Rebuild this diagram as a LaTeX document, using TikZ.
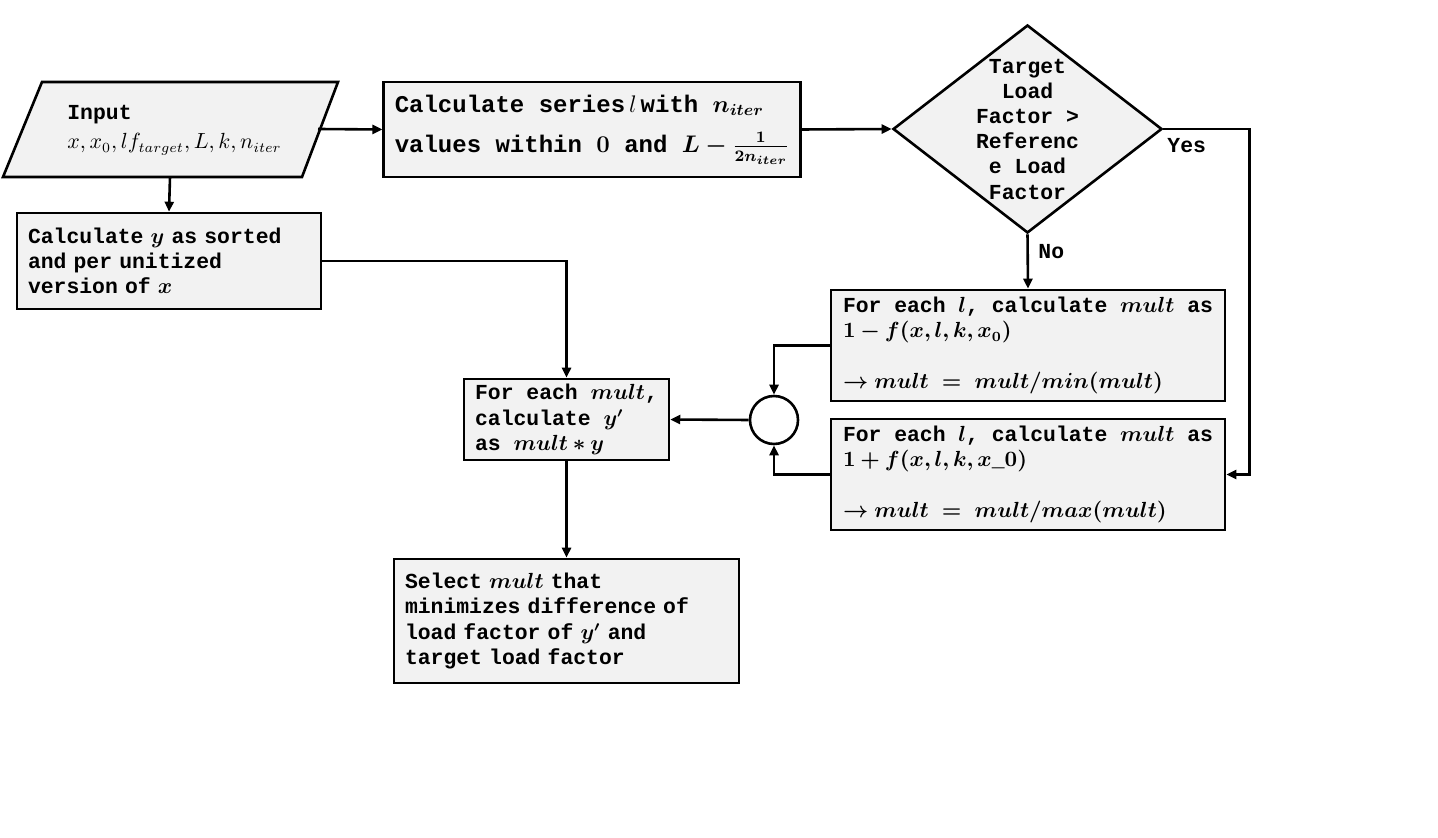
\documentclass[tikz,border=0pt]{standalone}
\usepackage{amsmath,bm}
\usepackage[no-math]{fontspec}
\setmainfont{Liberation Mono}[WordSpace={1,0,0}]
\usetikzlibrary{shapes.geometric,arrows.meta}
\definecolor{boxfill}{HTML}{F2F2F2}
\begin{document}
\begin{tikzpicture}[x=0.5pt,y=-0.5pt,
  txt/.style={font=\bfseries\fontsize{10.7pt}{12.6pt}\selectfont},
  box/.style={txt,draw,line width=1.3pt,fill=boxfill,inner xsep=5.5pt,inner ysep=0pt,align=left},
  conn/.style={line width=1.3pt,-{Triangle[length=5pt,width=4.5pt]}},
  ]
\useasboundingbox (0,0) rectangle (1438,838);
% input parallelogram
\coordinate (p1) at (42,82);
\coordinate (p2) at (338,82);
\coordinate (p3) at (302,177);
\coordinate (p4) at (3,177);
\draw[line width=1.3pt,fill=boxfill] (p1) -- (p2) -- (p3) -- (p4) -- cycle;
\node (intext) [txt,anchor=west,align=left,inner sep=0pt] at (67,130) {Input\\[2pt]$x, x_0, lf_{target}, L, k, n_{iter}$};
\coordinate (inR) at (318,129);
\coordinate (inB) at (170,177);
% boxes
\node (box1) [box,font=\bfseries\fontsize{12pt}{14pt}\selectfont,minimum width=206pt,minimum height=47.5pt] at (592,129.5)
  {Calculate series$\,l\,$with $\bm{n_{iter}}$\\[6pt] values within $\bm{0}$ and $\bm{L-\frac{1}{2n_{iter}}}$};
\node (boxy) [box,text width=141pt,minimum height=48pt] at (169,261)
  {Calculate $\bm{y}$ as sorted\\ and per unitized\\ version of $\bm{x}$};
\node (dia) [diamond,draw,line width=1.3pt,fill=boxfill,minimum width=134.5pt,minimum height=104pt,inner sep=0pt] at (1027.5,129) {};
\node (diatext) [txt,align=center,inner sep=0pt] at (dia.center) {Target\\Load\\Factor >\\Referenc\\e Load\\Factor};
\node (boxmin) [box,inner xsep=6pt,text width=185pt,minimum height=55.5pt] at (1028,345.5)
  {\hbox to \linewidth{For\hfill each\hfill $\bm{l}$,\hfill calculate\hfill $\bm{mult}$\hfill as}\\ $\bm{1-f(x,l,k,x_0)}$\\[12.6pt] $\bm{\rightarrow mult\ =\ mult/min(mult)}$};
\node (boxmax) [box,inner xsep=6pt,text width=185pt,minimum height=55.5pt] at (1028,474.5)
  {\hbox to \linewidth{For\hfill each\hfill $\bm{l}$,\hfill calculate\hfill $\bm{mult}$\hfill as}\\ $\bm{1+f(x,l,k,x}\_\bm{0)}$\\[12.6pt] $\bm{\rightarrow mult\ =\ mult/max(mult)}$};
\node (circ) [circle,draw,line width=1.3pt,fill=white,minimum size=24pt,inner sep=0pt] at (774,420) {};
\node (boxmult) [box,minimum width=99.5pt,minimum height=40.5pt] at (566.5,419.5)
  {For each $\bm{mult}$,\\ calculate $\bm{y'}$\\ as $\bm{mult*y}$};
\node (boxsel) [box,text width=161.5pt,minimum height=62pt] at (566.5,621)
  {Select $\bm{mult}$ that\\ minimizes difference of\\ load factor of $\bm{y'}$ and\\ target load factor};
% labels
\node (yes) [txt,anchor=west,inner sep=0pt] at (1167,146) {Yes};
\node (no) [txt,anchor=west,inner sep=0pt] at (1038,252) {No};
% connectors
\draw[conn] (inR) -- (box1.west);
\draw[conn] (inB) -- (boxy.north);
\draw[conn] (box1.east) -- (dia.west);
\draw[conn] (dia.east) -- ++(86,0) |- (boxmax.east);
\draw[conn] (dia.south) -- (boxmin.north);
\draw[conn] (boxmin.west) -| (circ.north);
\draw[conn] (boxmax.west) -| (circ.south);
\draw[conn] (circ.west) -- (boxmult.east);
\draw[conn] (boxy.east) -| (boxmult.north);
\draw[conn] (boxmult.south) -- (boxsel.north);
\end{tikzpicture}
\end{document}
